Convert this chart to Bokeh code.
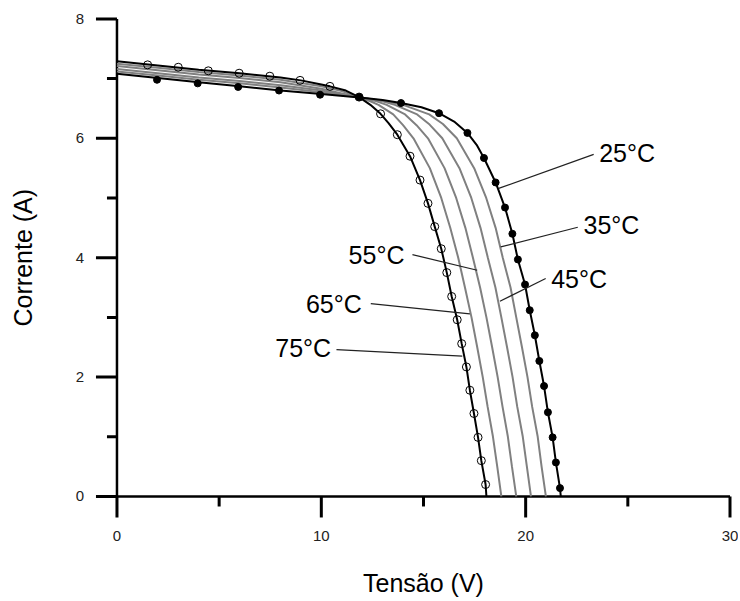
import math
from bokeh.plotting import figure
from bokeh.embed import file_html
from bokeh.resources import INLINE
from bokeh.core.properties import value

# ---- data ----
v25 = [0, 2, 4, 6, 8, 10, 12, 13, 13.9, 14.9, 15.76, 16.5, 17.15, 17.6, 17.96, 18.53, 18.99, 19.35,
       19.62, 19.97, 20.2, 20.45, 20.67, 20.9, 21.09, 21.32, 21.48, 21.68, 21.72]
i25 = [7.08, 7.01, 6.94, 6.87, 6.80, 6.74, 6.68, 6.64, 6.59, 6.52, 6.42, 6.28, 6.09, 5.89, 5.67, 5.26,
       4.84, 4.40, 3.97, 3.55, 3.12, 2.70, 2.27, 1.85, 1.41, 0.99, 0.57, 0.14, 0.0]

v35 = [0, 2, 4, 6, 8, 10, 12, 13, 14.0, 15.28, 15.95, 16.63, 17.48, 18.07, 18.53, 18.88, 19.26, 19.54,
       19.82, 20.09, 20.32, 20.59, 20.78, 20.99]
i35 = [7.12, 7.05, 6.98, 6.92, 6.85, 6.77, 6.68, 6.63, 6.56, 6.40, 6.24, 6.0, 5.5, 5.0, 4.5, 4.0, 3.5, 3.0,
       2.5, 2.0, 1.5, 1.0, 0.5, 0.0]

v45 = [0, 2, 4, 6, 8, 10, 12, 13, 13.6, 14.69, 15.3, 15.92, 16.76, 17.34, 17.79, 18.15, 18.52, 18.81,
       19.09, 19.36, 19.59, 19.86, 20.06, 20.26]
i45 = [7.16, 7.09, 7.02, 6.96, 6.89, 6.80, 6.68, 6.62, 6.56, 6.40, 6.23, 6.0, 5.5, 5.0, 4.5, 4.0, 3.5, 3.0,
       2.5, 2.0, 1.5, 1.0, 0.5, 0.0]

v55 = [0, 2, 4, 6, 8, 10, 12, 12.6, 13.2, 14.1, 14.66, 15.22, 16.03, 16.6, 17.05, 17.42, 17.77, 18.08,
       18.36, 18.63, 18.87, 19.13, 19.33, 19.54]
i55 = [7.21, 7.14, 7.07, 7.01, 6.94, 6.83, 6.67, 6.63, 6.56, 6.40, 6.22, 6.0, 5.5, 5.0, 4.5, 4.0, 3.5, 3.0,
       2.5, 2.0, 1.5, 1.0, 0.5, 0.0]

v65 = [0, 2, 4, 6, 8, 10, 11, 12, 12.4, 12.8, 13.52, 14.0, 14.51, 15.31, 15.87, 16.31, 16.7, 17.03, 17.35,
       17.63, 17.9, 18.14, 18.4, 18.61, 18.81]
i65 = [7.25, 7.18, 7.11, 7.05, 6.98, 6.87, 6.79, 6.67, 6.62, 6.56, 6.40, 6.22, 6.0, 5.5, 5.0, 4.5, 4.0, 3.5,
       3.0, 2.5, 2.0, 1.5, 1.0, 0.5, 0.0]

v75 = [0, 2, 4, 6, 8, 9, 10, 10.42, 11.2, 11.85, 12.4, 12.9, 13.3, 13.72, 14.34, 14.83, 15.22, 15.55,
       15.87, 16.14, 16.38, 16.65, 16.87, 17.1, 17.27, 17.47, 17.67, 17.83, 18.04, 18.08]
i75 = [7.29, 7.22, 7.15, 7.09, 7.02, 6.97, 6.90, 6.87, 6.80, 6.69, 6.56, 6.41, 6.25, 6.06, 5.70, 5.30,
       4.91, 4.52, 4.15, 3.75, 3.35, 2.96, 2.56, 2.17, 1.78, 1.39, 0.99, 0.60, 0.20, 0.0]

# measured points
m25_v = [1.96, 3.95, 5.93, 7.93, 9.94, 11.85, 13.9, 15.76, 17.15, 17.96, 18.53, 18.99, 19.35, 19.62,
         19.97, 20.2, 20.45, 20.67, 20.9, 21.09, 21.32, 21.48, 21.68]
m25_i = [6.98, 6.92, 6.86, 6.80, 6.73, 6.69, 6.59, 6.42, 6.09, 5.67, 5.26, 4.84, 4.40, 3.97, 3.55, 3.12,
         2.70, 2.27, 1.85, 1.41, 0.99, 0.57, 0.14]
m75_v = [1.5, 3.0, 4.47, 5.98, 7.48, 8.96, 10.42, 11.85, 12.9, 13.72, 14.34, 14.83, 15.22, 15.55, 15.87,
         16.14, 16.38, 16.65, 16.87, 17.1, 17.27, 17.47, 17.67, 17.83, 18.04]
m75_i = [7.23, 7.19, 7.13, 7.09, 7.04, 6.97, 6.87, 6.69, 6.41, 6.06, 5.70, 5.30, 4.91, 4.52, 4.15, 3.75,
         3.35, 2.96, 2.56, 2.17, 1.78, 1.39, 0.99, 0.60, 0.20]

# curve labels
lab_text = ["25°C", "35°C", "45°C", "55°C", "65°C", "75°C"]
lab_x = [23.60, 22.83, 21.25, 14.07, 11.98, 10.48]
lab_y = [5.75, 4.54, 3.65, 4.04, 3.22, 2.49]
lab_align = ["left", "left", "left", "right", "right", "right"]
lead_x0 = [18.68, 18.78, 18.74, 17.63, 17.27, 16.9]
lead_y0 = [5.16, 4.18, 3.27, 3.79, 3.06, 2.35]
lead_x1 = [23.33, 22.55, 20.98, 14.46, 12.42, 10.74]
lead_y1 = [5.73, 4.51, 3.65, 4.05, 3.23, 2.46]

# axes
x_min, x_max = 0, 30
y_min, y_max = 0, 8
x_major = [0, 10, 20, 30]
x_minor = [5, 15, 25]
y_major = [0, 2, 4, 6, 8]
y_minor = [1, 3, 5, 7]
x_title = "Tensão (V)"
y_title = "Corrente (A)"

FONT = "Liberation Sans"

W, H = 738, 598
XR = (-5.70, 30.416)
YR = (-1.709, 8.308)
sx = (XR[1] - XR[0]) / W   # data units per pixel
sy = (YR[1] - YR[0]) / H

# the visible frame is extended so the hand-drawn axes (ticks, labels, titles) lie inside it
p = figure(width=W, height=H, x_range=XR, y_range=YR,
           output_backend="svg", toolbar_location=None,
           x_axis_location=None, y_axis_location=None,
           min_border=0, min_border_left=0, min_border_right=0,
           min_border_top=0, min_border_bottom=0)
p.xgrid.grid_line_alpha = 0
p.ygrid.grid_line_alpha = 0
p.outline_line_alpha = 0

# ---- axes drawn first, as line glyphs ----
AXW = 2.5
TKW = 3
MAJ, MIN = 21, 10
axis_xs = [[x_min, x_max], [x_min, x_min]]
axis_ys = [[y_min, y_min], [y_min, y_max]]
tick_xs, tick_ys = [], []
for v in x_major:
    tick_xs.append([v, v]); tick_ys.append([y_min, y_min - MAJ * sy])
for v in x_minor:
    tick_xs.append([v, v]); tick_ys.append([y_min, y_min - MIN * sy])
for v in y_major:
    tick_xs.append([x_min, x_min - MAJ * sx]); tick_ys.append([v, v])
for v in y_minor:
    tick_xs.append([x_min, x_min - MIN * sx]); tick_ys.append([v, v])
p.multi_line(tick_xs, tick_ys, line_color="black", line_width=TKW)
p.multi_line(axis_xs, axis_ys, line_color="black", line_width=AXW)

gray = "#808080"
for vv, ii in [(v35, i35), (v45, i45), (v55, i55), (v65, i65)]:
    p.line(vv, ii, line_color=gray, line_width=2)
p.line(v25, i25, line_color="black", line_width=2)
p.line(v75, i75, line_color="black", line_width=2)

p.scatter(m25_v, m25_i, marker="circle", size=7, fill_color="black", line_color="black")
p.scatter(m75_v, m75_i, marker="circle", size=8, fill_alpha=0, line_color="black", line_width=1)

p.segment(lead_x0, lead_y0, lead_x1, lead_y1, line_color="#222222", line_width=1.2)
for t, x, y, a in zip(lab_text, lab_x, lab_y, lab_align):
    p.text([x], [y], text=[t], text_align=a, text_baseline="middle",
           text_font=value(FONT), text_font_size="25px", text_color="black")

# tick labels
p.text(x_major, [y_min] * len(x_major), text=[str(v) for v in x_major],
       text_align="center", text_baseline="middle", y_offset=40,
       text_font=value(FONT), text_font_size="15px", text_color="#222222")
p.text([x_min] * len(y_major), y_major, text=[str(v) for v in y_major],
       text_align="right", text_baseline="middle", x_offset=-33,
       text_font=value(FONT), text_font_size="15px", text_color="#222222")
# axis titles
p.text([(x_min + x_max) / 2], [y_min], text=[x_title], text_align="center",
       text_baseline="middle", y_offset=87,
       text_font=value(FONT), text_font_size="25px", text_color="black")
p.text([x_min], [(y_min + y_max) / 2], text=[y_title], text_align="center",
       text_baseline="middle", x_offset=-94, angle=math.pi / 2,
       text_font=value(FONT), text_font_size="25px", text_color="black")

open("out.html", "w").write(file_html(p, INLINE))
